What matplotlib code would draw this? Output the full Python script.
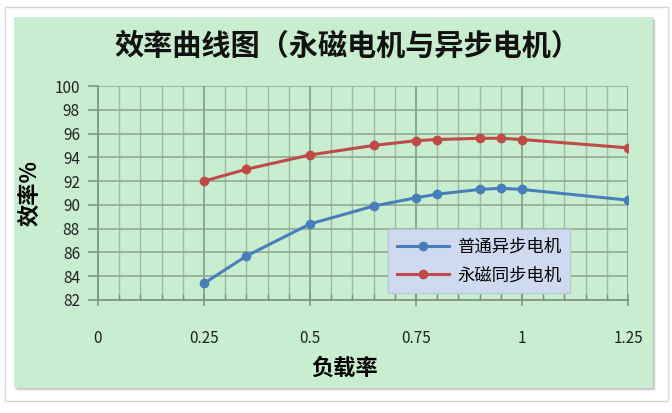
import matplotlib
matplotlib.use('Agg')
import matplotlib.pyplot as plt
from matplotlib.patches import Rectangle
from matplotlib.ticker import MultipleLocator

# 数据
load_rate = [0.25, 0.35, 0.5, 0.65, 0.75, 0.8, 0.9, 0.95, 1.0, 1.25]
async_eff = [83.4, 85.7, 88.4, 89.9, 90.6, 90.9, 91.3, 91.4, 91.3, 90.4]
pm_eff = [92.0, 93.0, 94.2, 95.0, 95.4, 95.5, 95.6, 95.6, 95.5, 94.8]
series_names = ['普通异步电机', '永磁同步电机']
title = '效率曲线图（永磁电机与异步电机）'

plt.rcParams['font.family'] = ['Noto Sans CJK SC', 'DejaVu Sans']

W, H = 672, 413
fig = plt.figure(figsize=(W / 100, H / 100), dpi=100)
fig.patch.set_facecolor('white')


def px_rect(x0, y0, x1, y1, **kw):
    # rettangolo in pixel (origine in alto a sinistra)
    return Rectangle((x0 / W, 1 - y1 / H), (x1 - x0) / W, (y1 - y0) / H,
                     transform=fig.transFigure, zorder=-5, **kw)


# cornice esterna e ombra
fig.patches.append(px_rect(5, 7, 668, 401, facecolor='white', edgecolor='#d6d6d6', lw=1))
for i, a in enumerate([0.10, 0.14, 0.20]):
    off = 3 - i
    fig.patches.append(px_rect(14 + off, 17 + off, 653 + off, 388 + off,
                               facecolor='#606060', edgecolor='none', alpha=a))
fig.patches.append(px_rect(14, 17, 653, 388, facecolor='#c8eecf', edgecolor='none'))

ax = fig.add_axes([98 / W, 1 - 300 / H, (628 - 98) / W, (300 - 86) / H])
ax.set_facecolor('none')
ax.set_zorder(2)

blue = '#4a7ebb'
red = '#be4b48'
ax.plot(load_rate, async_eff, color=blue, lw=2.2, marker='o', ms=6,
        label=series_names[0], zorder=5)
ax.plot(load_rate, pm_eff, color=red, lw=2.2, marker='o', ms=6,
        label=series_names[1], zorder=5)

ax.set_xlim(0, 1.25)
ax.set_ylim(82, 100)
ax.set_xticks([0, 0.25, 0.5, 0.75, 1.0, 1.25])
ax.set_xticklabels(['0', '0.25', '0.5', '0.75', '1', '1.25'])
ax.xaxis.set_minor_locator(MultipleLocator(0.05))
ax.yaxis.set_major_locator(MultipleLocator(2))

grid_c = '#8ea58f'
ax.grid(True, which='major', axis='x', color='#7d937e', lw=1.1)
ax.grid(True, which='minor', axis='x', color='#a3b9a4', lw=1.0)
ax.grid(True, which='major', axis='y', color=grid_c, lw=1.1)
ax.set_axisbelow(True)

for s in ['top', 'right']:
    ax.spines[s].set_visible(False)
for s in ['left', 'bottom']:
    ax.spines[s].set_color('#7d937e')
    ax.spines[s].set_linewidth(1.2)

ax.tick_params(axis='x', which='major', direction='inout', length=9, width=1.1,
               color='#7d937e', pad=17, labelsize=11, labelcolor='#222222')
ax.tick_params(axis='x', which='minor', direction='in', length=4, width=1,
               color='#7d937e')
ax.tick_params(axis='y', which='major', direction='out', length=7, width=1.1,
               color='#7d937e', pad=6, labelsize=11, labelcolor='#222222')

ax.set_xlabel('负载率', fontsize=16, fontweight='bold', va='top')
ax.xaxis.set_label_coords(0.466, -0.265)
ax.set_ylabel('效率%', fontsize=16, fontweight='bold', va='center')
ax.yaxis.set_label_coords(-0.128, 0.5)

fig.text(347 / W, 1 - 46 / H, title, ha='center', va='center',
         fontsize=21, fontweight='bold', color='#111111')

leg = ax.legend(loc='lower left', bbox_to_anchor=(0.547, 0.033), fontsize=12.5,
                frameon=True, fancybox=False, handlelength=3.0, borderpad=0.5,
                labelspacing=0.6, handletextpad=0.5, borderaxespad=0)
leg.get_frame().set_facecolor('#cfdaf1')
leg.get_frame().set_edgecolor('#b9c7e2')
leg.get_frame().set_alpha(1)

plt.savefig('out.png', dpi=100)
plt.close()
